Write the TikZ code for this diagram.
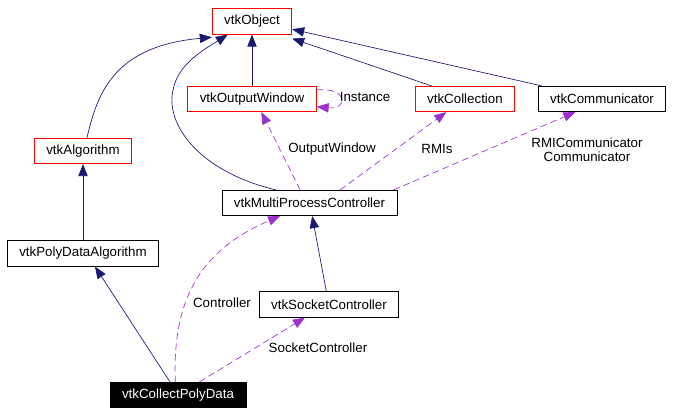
\documentclass[tikz,border=0pt]{standalone}
\usepackage{fontspec}
\setmainfont{Liberation Sans}
\usetikzlibrary{arrows.meta}
\definecolor{inhnavy}{RGB}{25,25,112}
\definecolor{usepurple}{RGB}{154,50,205}

\begin{document}
\begin{tikzpicture}[x=0.75pt, y=-0.75pt,
  cls/.style={draw=black, fill=white, font=\fontsize{10}{11}\selectfont, inner xsep=9pt, minimum height=19pt, line width=0.6pt},
  doc/.style={cls, draw=red},
  inh/.style={-{Triangle[length=9pt,width=7pt]}, inhnavy, line width=0.5pt},
  use/.style={-{Triangle[length=9pt,width=7pt]}, usepurple, line width=0.5pt, dash pattern=on 5pt off 3pt},
  lbl/.style={font=\fontsize{10}{10.5}\selectfont, align=center, inner sep=1pt}]
\useasboundingbox (0,0) rectangle (679,415);

% Classes
\node[doc] (obj) at (252,21.5) {vtkObject};
\node[doc] (outwin) at (252,99) {vtkOutputWindow};
\node[doc] (coll) at (465,99) {vtkCollection};
\node[cls] (comm) at (602,99) {vtkCommunicator};
\node[doc] (algo) at (83,151) {vtkAlgorithm};
\node[cls] (mpc) at (309.5,203) {vtkMultiProcessController};
\node[cls] (pda) at (83,253.5) {vtkPolyDataAlgorithm};
\node[cls] (sock) at (329,304.5) {vtkSocketController};
\node[cls, fill=black, text=white] (cpd) at (178,395) {vtkCollectPolyData};

% Inheritance
\draw[inh] ([xshift=3pt]algo.north) .. controls (98,88) and (118,46) .. ([yshift=-2pt]obj.south west);
\draw[inh] ([xshift=-25pt]mpc.north) .. controls (200,172) and (165,125) .. (173,90)
  .. controls (178,65) and (200,52) .. ([xshift=12pt]obj.south west);
\draw[inh] (outwin) -- (obj);
\draw[inh] ([xshift=-25pt]coll.north) -- ([yshift=-3pt]obj.south east);
\draw[inh] ([xshift=-45pt]comm.north) -- ([yshift=4pt]obj.south east);
\draw[inh] (pda) -- (algo);
\draw[inh] ([xshift=-2pt]sock.north) -- ([xshift=2pt]mpc.south);
\draw[inh] ([xshift=-6pt]cpd.north) -- ([xshift=9pt]pda.south);

% Usage
\draw[use] ([yshift=-3pt]outwin.north east) .. controls +(32,-3) and +(32,3) .. ([yshift=4pt]outwin.south east);
\node[lbl] (linst) at (365,97) {Instance};
\draw[use] ([xshift=-7pt]mpc.north) -- ([xshift=7pt]outwin.south);
\node[lbl] (lout) at (332,149) {OutputWindow};
\draw[use] ([xshift=23pt]mpc.north) -- ([xshift=-14pt]coll.south);
\node[lbl] (lrmi) at (437,149) {RMIs};
\draw[use] ([xshift=-3pt]mpc.north east) -- ([xshift=-20pt]comm.south);
\node[lbl] (lcomm) at (587,150) {RMICommunicator\\Communicator};
\draw[use] ([xshift=-2pt]cpd.north) .. controls (172,300) and (200,250) .. ([xshift=-22pt]mpc.south);
\node[lbl] (lctrl) at (222,303) {Controller};
\draw[use] ([xshift=16pt]cpd.north) -- ([xshift=-18pt]sock.south);
\node[lbl] (lsock) at (318,348) {SocketController};
\end{tikzpicture}
\end{document}
